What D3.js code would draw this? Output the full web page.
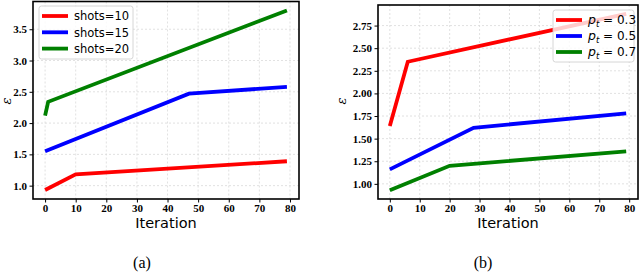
<!DOCTYPE html>
<html>
<head>
<meta charset="utf-8">
<script src="https://cdn.jsdelivr.net/npm/d3@7"></script>
<style>
  body { margin: 0; background: #fff; }
  .tick text { font-family: "Liberation Serif", "Times New Roman", serif; font-weight: bold; font-size: 11px; fill: #000; }
  .grid line { stroke: #d9d9d9; stroke-dasharray: 2,2; stroke-width: 0.8; }
</style>
</head>
<body>
<svg id="chart" width="640" height="273"></svg>
<script>
// panel (a): shots
var iterA = [0, 1, 10, 47, 79];
var shots10 = [0.93, null, 1.18, null, 1.39];
var shots15 = [1.55, null, null, 2.47, 2.58];
var shots20 = [2.12, 2.34, null, null, 3.80];
var labelsA = ['shots=10', 'shots=15', 'shots=20'];
var yTicksA = [1.0, 1.5, 2.0, 2.5, 3.0, 3.5];

// panel (b): p_t
var iterB = [0, 6, 20, 28, 79];
var pt03 = [1.64, 2.35, null, null, 2.88];
var pt05 = [1.16, null, null, 1.62, 1.78];
var pt07 = [0.93, null, 1.20, null, 1.36];
var labelsB = ['0.3', '0.5', '0.7'];
var yTicksB = [1.00, 1.25, 1.50, 1.75, 2.00, 2.25, 2.50, 2.75];

var xTicks = [0, 10, 20, 30, 40, 50, 60, 70, 80];
var colors = ['#ff0000', '#0000ff', '#008000'];

var svg = d3.select('#chart');

function toPoints(xs, ys) {
    return xs.map(function(x, i) { return { x: x, y: ys[i] }; })
        .filter(function(d) { return d.y !== null; });
}

function drawPanel(opt) {
    var series = opt.series.map(function(s) { return toPoints(opt.iters, s); });
    var all = [].concat.apply([], series);
    var xMin = d3.min(all, function(d) { return d.x; }), xMax = d3.max(all, function(d) { return d.x; });
    var yMin = d3.min(all, function(d) { return d.y; }), yMax = d3.max(all, function(d) { return d.y; });
    var xPad = (xMax - xMin) * 0.05, yPad = (yMax - yMin) * 0.05;

    var x = d3.scaleLinear().domain([xMin - xPad, xMax + xPad]).range([opt.left, opt.right]);
    var y = d3.scaleLinear().domain([yMin - yPad, yMax + yPad]).range([opt.bottom, opt.top]);

    var g = svg.append('g');

    // grid
    g.append('g').attr('class', 'grid')
        .selectAll('line.gx').data(xTicks).enter().append('line')
        .attr('x1', function(d) { return x(d); }).attr('x2', function(d) { return x(d); })
        .attr('y1', opt.top).attr('y2', opt.bottom);
    g.append('g').attr('class', 'grid')
        .selectAll('line.gy').data(opt.yTicks).enter().append('line')
        .attr('y1', function(d) { return y(d); }).attr('y2', function(d) { return y(d); })
        .attr('x1', opt.left).attr('x2', opt.right);

    // lines
    var line = d3.line()
        .x(function(d) { return x(d.x); })
        .y(function(d) { return y(d.y); });
    series.forEach(function(s, i) {
        g.append('path').datum(s)
            .attr('d', line)
            .attr('fill', 'none')
            .attr('stroke', colors[i])
            .attr('stroke-width', 3.8)
            .attr('stroke-linejoin', 'miter');
    });

    // axes
    g.append('g')
        .attr('transform', 'translate(0,' + opt.bottom + ')')
        .call(d3.axisBottom(x).tickValues(xTicks).tickSize(3.5).tickPadding(2).tickFormat(d3.format('d')))
        .call(function(a) { a.select('.domain').remove(); });
    g.append('g')
        .attr('transform', 'translate(' + opt.left + ',0)')
        .call(d3.axisLeft(y).tickValues(opt.yTicks).tickSize(3.5).tickPadding(2.5).tickFormat(d3.format(opt.yFormat)))
        .call(function(a) { a.select('.domain').remove(); });

    // frame
    g.append('rect')
        .attr('x', opt.left).attr('y', opt.top)
        .attr('width', opt.right - opt.left).attr('height', opt.bottom - opt.top)
        .attr('fill', 'none').attr('stroke', '#000').attr('stroke-width', 1.6);

    // axis titles
    g.append('text')
        .attr('x', (opt.left + opt.right) / 2).attr('y', 228)
        .attr('text-anchor', 'middle')
        .style('font-family', '"DejaVu Sans", sans-serif').style('font-size', '14.5px')
        .text('Iteration');
    g.append('text')
        .attr('transform', 'translate(' + opt.yLabelX + ',101) rotate(-90)')
        .attr('text-anchor', 'middle')
        .style('font-family', '"DejaVu Serif", serif').style('font-style', 'italic').style('font-size', '13px')
        .text('\u03b5');

    // caption
    g.append('text')
        .attr('x', opt.captionX).attr('y', 268)
        .attr('text-anchor', 'middle')
        .style('font-family', '"Liberation Serif", serif').style('font-size', '16px')
        .text(opt.caption);

    // legend
    var lg = opt.legend;
    g.append('rect')
        .attr('x', lg.x).attr('y', lg.y).attr('width', lg.w).attr('height', lg.h)
        .attr('rx', 2.5)
        .attr('fill', 'rgba(255,255,255,0.8)').attr('stroke', '#cccccc').attr('stroke-width', 0.8);
    opt.labels.forEach(function(lab, i) {
        var yy = lg.y + lg.row0 + i * lg.step;
        g.append('line')
            .attr('x1', lg.x + 3).attr('x2', lg.x + 29)
            .attr('y1', yy).attr('y2', yy)
            .attr('stroke', colors[i]).attr('stroke-width', 3.8);
        var t = g.append('text')
            .attr('x', lg.x + 35).attr('y', yy + 4.2)
            .style('font-family', '"DejaVu Sans", sans-serif').style('font-size', '11.5px');
        if (opt.pt) {
            t.append('tspan').style('font-style', 'italic').style('font-size', '12.5px').text('p');
            t.append('tspan').attr('dy', 2.5).style('font-style', 'italic').style('font-size', '8.5px').text('t');
            t.append('tspan').attr('dy', -2.5).style('font-size', '12px').text(' = ' + lab);
        } else {
            t.text(lab);
        }
    });
}

drawPanel({
    iters: iterA, series: [shots10, shots15, shots20], labels: labelsA,
    yTicks: yTicksA, yFormat: '.1f',
    left: 33, right: 299, top: 1.5, bottom: 199,
    yLabelX: 11, captionX: 142, caption: '(a)',
    legend: { x: 39, y: 6, w: 94, h: 53, row0: 10, step: 16.3 }
});

drawPanel({
    iters: iterB, series: [pt03, pt05, pt07], labels: labelsB, pt: true,
    yTicks: yTicksB, yFormat: '.2f',
    left: 378, right: 638, top: 5, bottom: 199,
    yLabelX: 346, captionX: 483, caption: '(b)',
    legend: { x: 553, y: 10, w: 81, h: 52, row0: 10, step: 16 }
});
</script>
</body>
</html>
